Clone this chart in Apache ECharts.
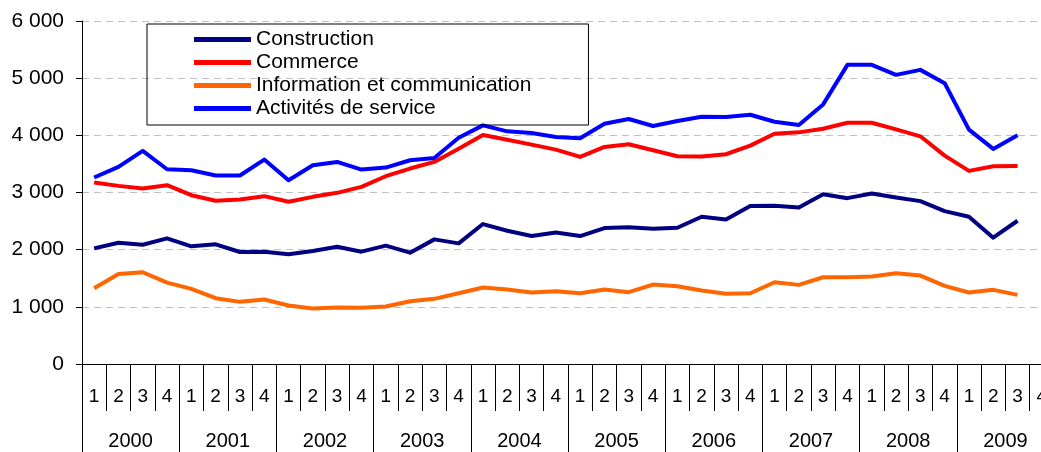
<!DOCTYPE html>
<html>
<head>
<meta charset="utf-8">
<script src="https://cdn.jsdelivr.net/npm/echarts@6/dist/echarts.min.js"></script>
<style>
  html, body { margin: 0; padding: 0; background: #fff; }
  #chartWrapper { width: 1041px; height: 452px; }
</style>
</head>
<body>
<div id="chartWrapper"></div>
<script>
// trimestres 2000T1 .. 2009T4
let years = ['2000', '2001', '2002', '2003', '2004', '2005', '2006', '2007', '2008', '2009'];
let quarters = [];
years.forEach(function () {
    quarters.push('1', '2', '3', '4');
});

let construction = [2023, 2122, 2087, 2198, 2058, 2093, 1959, 1965, 1919, 1977,
    2052, 1965, 2070, 1948, 2180, 2110, 2448, 2331, 2238, 2302,
    2238, 2378, 2390, 2366, 2384, 2576, 2529, 2762, 2767, 2738,
    2971, 2901, 2983, 2913, 2849, 2674, 2576, 2209, 2506];
let commerce = [3174, 3116, 3070, 3128, 2953, 2855, 2878, 2936, 2837, 2924,
    2994, 3099, 3285, 3419, 3535, 3767, 4006, 3924, 3837, 3750,
    3622, 3797, 3843, 3738, 3634, 3628, 3669, 3820, 4029, 4052,
    4116, 4221, 4221, 4105, 3983, 3645, 3378, 3459, 3465];
let infoCom = [1326, 1576, 1605, 1424, 1314, 1151, 1087, 1128, 1023, 971,
    988, 983, 1006, 1099, 1140, 1238, 1337, 1302, 1250, 1273,
    1238, 1302, 1256, 1390, 1360, 1285, 1227, 1238, 1430, 1384,
    1517, 1517, 1529, 1587, 1547, 1366, 1250, 1297, 1209];
let services = [3262, 3448, 3727, 3407, 3390, 3297, 3297, 3576, 3215, 3477,
    3535, 3401, 3436, 3564, 3605, 3959, 4174, 4070, 4041, 3971,
    3948, 4203, 4285, 4163, 4250, 4326, 4320, 4360, 4238, 4180,
    4541, 5233, 5233, 5058, 5145, 4913, 4099, 3762, 4000];

let seriesNames = ['Construction', 'Commerce', 'Information et communication', 'Activités de service'];
let seriesColors = ['#000080', '#ff0000', '#ff6600', '#0000ff'];
let seriesValues = [construction, commerce, infoCom, services];

let font = 'Liberation Sans, Arial, sans-serif';

let myChart = echarts.init(document.getElementById('chartWrapper'));

let seriesData = [];
for (let i = 0; i < seriesNames.length; i++) {
    seriesData.push({
        name: seriesNames[i],
        type: 'line',
        xAxisIndex: 0,
        data: seriesValues[i],
        symbol: 'none',
        color: seriesColors[i],
        lineStyle: { width: 4, color: seriesColors[i], join: 'round' }
    });
}

let option = {
    animation: false,
    backgroundColor: '#fff',
    grid: {
        left: 82,
        top: 21,
        width: 972,
        height: 343,
        outerBoundsMode: 'none',
        containLabel: false
    },
    legend: {
        orient: 'vertical',
        left: 147,
        top: 24,
        padding: [4, 57, 5, 47],
        itemGap: 0,
        itemWidth: 57,
        itemHeight: 5,
        icon: 'rect',
        borderColor: '#000',
        borderWidth: 1,
        textStyle: { fontFamily: font, fontSize: 21, lineHeight: 23, color: '#000' },
        data: seriesNames
    },
    xAxis: [
        {
            type: 'category',
            data: quarters,
            position: 'bottom',
            axisLine: { show: true, lineStyle: { color: '#000', width: 1 } },
            axisTick: { show: true, interval: 0, length: 47, lineStyle: { color: '#000', width: 1 } },
            axisLabel: { show: true, interval: 0, margin: 23, fontFamily: font, fontSize: 19, lineHeight: 20, color: '#000' },
            splitLine: { show: false }
        },
        {
            type: 'category',
            data: years,
            position: 'bottom',
            offset: 0,
            axisLine: { show: false },
            axisTick: { show: true, interval: 0, length: 88, lineStyle: { color: '#000' } },
            axisLabel: { interval: 0, margin: 67, fontFamily: font, fontSize: 20, lineHeight: 20, color: '#000' },
            splitLine: { show: false }
        }
    ],
    yAxis: {
        type: 'value',
        min: 0,
        max: 6000,
        interval: 1000,
        axisLine: { show: true, lineStyle: { color: '#000' } },
        axisTick: { show: true, length: 6, lineStyle: { color: '#000' } },
        axisLabel: {
            margin: 18,
            fontFamily: font,
            fontSize: 21,
            color: '#000',
            formatter: function (v) {
                return String(v).replace(/\B(?=(\d{3})+(?!\d))/g, ' ');
            }
        },
        splitLine: { lineStyle: { color: '#c0c0c0', type: [7, 5], width: 1 } }
    },
    series: seriesData
};

myChart.setOption(option);
</script>
</body>
</html>
